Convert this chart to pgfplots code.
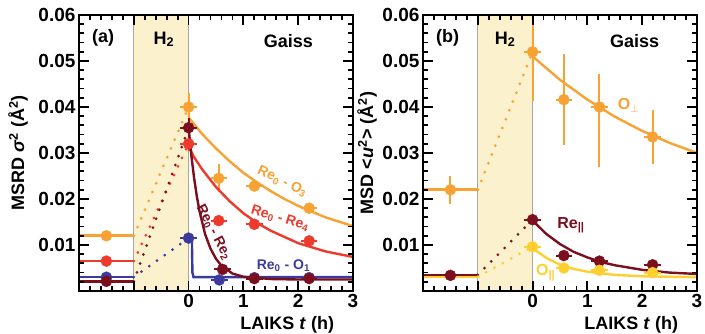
\documentclass[border=0pt]{standalone}
\usepackage{pgfplots}
\pgfplotsset{compat=1.18}
\usepackage{fontspec}
\setmainfont{Liberation Sans}
\definecolor{cOr}{HTML}{F7A233}
\definecolor{cRd}{HTML}{EE3A2C}
\definecolor{cDk}{HTML}{7B0F1E}
\definecolor{cBl}{HTML}{3B3B9E}
\definecolor{cYe}{HTML}{FFCF2F}
\definecolor{cSh}{HTML}{FBF1CC}
\newcommand{\fs}[1]{\fontsize{#1}{#1}\selectfont\bfseries}
\pgfplotsset{
  panel/.style={
    scale only axis, width=274pt, height=276pt,
    xmin=-2, xmax=3, ymin=0, ymax=0.06,
    axis on top,
    xtick={-2,-1,0,1,2,3}, xticklabels={,,0,1,2,3},
    ytick={0,0.01,0.02,0.03,0.04,0.05,0.06},
    yticklabels={,0.01,0.02,0.03,0.04,0.05,0.06},
    scaled y ticks=false,
    minor x tick num=4, minor y tick num=4,
    tick align=inside,
    major tick length=10pt, minor tick length=5pt,
    tick style={black, line width=1.8pt},
    axis line style={line width=2.4pt},
    tick label style={font=\fs{19}},
    /pgf/number format/assume math mode=true,
    label style={font=\fs{18}},
    xlabel={LAIKS \textit{t} (h)},
    xlabel style={at={([yshift=-22pt]rel axis cs:0.76,0)}, anchor=north},
  },
  cur/.style={#1, line width=2.4pt, no markers},
  dotl/.style={#1, line width=3pt, line cap=round, dash pattern=on 0pt off 9.5pt, no markers},
  init/.style={#1, line width=2.6pt, no markers},
  pts/.style={#1, only marks, mark=*, mark size=5.5pt, mark options={fill=#1, draw=#1, solid},
     error bars/.cd, x dir=both, x explicit, y dir=both, y explicit,
     error bar style={#1, line width=2pt}, error mark=none},
}
\begin{document}
\begin{tikzpicture}
\path[use as bounding box] (0,0) rectangle (705pt,334pt);
% ---------------- panel (a)
\begin{axis}[panel, at={(79pt,43pt)}, anchor=south west,
  ylabel={MSRD \textit{σ}\textsuperscript{2} (Å\textsuperscript{2})},
  ylabel style={at={([xshift=-61pt]rel axis cs:0,0.5)}, anchor=center}]
\addplot[fill=cSh, draw=none] coordinates {(-1,0.06) (0,0.06)} \closedcycle;
\addplot[gray!70, line width=0.8pt] coordinates {(-1,0) (-1,0.06)};
\addplot[gray!70, line width=0.8pt] coordinates {(0,0) (0,0.06)};
% orange Re0-O3
\addplot[init=cOr] coordinates {(-2,0.012) (-1,0.012)};
\addplot[dotl=cOr] coordinates {(-1,0.012) (0,0.040)};
\addplot[cur=cOr] coordinates {(0,0.0377)(0.25,0.0341)(0.5,0.0310)(0.75,0.0282)(1,0.0257)(1.25,0.0236)(1.5,0.0217)(1.75,0.0200)(2,0.0185)(2.5,0.0160)(3,0.0141)};
\addplot[pts=cOr] coordinates {(-1.5,0.012) +- (0,0) (0,0.040) +- (0.15,0.003) (0.55,0.0245) +- (0.15,0.003) (1.2,0.0228) +- (0.15,0.001) (2.2,0.018) +- (0.15,0.0008)};
% red Re0-Re4
\addplot[init=cRd] coordinates {(-2,0.0065) (-1,0.0065)};
\addplot[dotl=cRd] coordinates {(-1,0.0065) (0,0.032)};
\addplot[cur=cRd] coordinates {(0,0.0315)(0.1,0.0291)(0.25,0.0264)(0.5,0.0226)(0.75,0.0195)(1,0.0169)(1.25,0.0148)(1.5,0.0131)(2,0.0104)(2.5,0.0086)(3,0.0074)};
\addplot[pts=cRd] coordinates {(-1.5,0.0065) +- (0,0) (0,0.032) +- (0.15,0.0015) (0.55,0.0153) +- (0.15,0.0008) (1.2,0.0145) +- (0.15,0.0008) (2.2,0.0109) +- (0.15,0.0006)};
% blue Re0-O1
\addplot[init=cBl] coordinates {(-2,0.003) (-1,0.003)};
\addplot[dotl=cBl] coordinates {(-1,0.003) (0,0.0115)};
\addplot[cur=cBl] coordinates {(0,0.0115)(0.06,0.0113)(0.07,0.004)(0.09,0.003)(3,0.003)};
\addplot[pts=cBl] coordinates {(-1.5,0.003) +- (0,0) (0,0.0115) +- (0.15,0.0008) (0.56,0.0024) +- (0.15,0.0004) (1.2,0.0029) +- (0.15,0.0004) (2.2,0.0029) +- (0.15,0.0004)};
% dark red Re0-Re2
\addplot[init=cDk] coordinates {(-2,0.0021) (-1,0.0021)};
\addplot[dotl=cDk] coordinates {(-1,0.0021) (0,0.0355)};
\addplot[cur=cDk] coordinates {(0,0.0355)(0.05,0.0295)(0.1,0.0246)(0.15,0.0206)(0.2,0.0173)(0.3,0.0124)(0.4,0.0092)(0.5,0.0070)(0.6,0.0055)(0.8,0.0038)(1,0.0031)(1.5,0.0026)(2,0.0025)(3,0.0025)};
\addplot[pts=cDk] coordinates {(-1.5,0.0021) +- (0,0) (0,0.0355) +- (0.15,0.002) (0.62,0.0047) +- (0.15,0.0005) (1.2,0.0027) +- (0.15,0.0004) (2.2,0.0027) +- (0.15,0.0004)};
% texts
\node[font=\fs{18}] at (axis cs:-1.56,0.0551) {(a)};
\node[font=\fs{18}] at (axis cs:-0.45,0.0547) {H\textsubscript{2}};
\node[font=\fs{18}] at (axis cs:1.82,0.0543) {Gaiss};
\node[cOr, font=\fs{14}, rotate=-25] at (axis cs:1.71,0.0238) {Re\textsubscript{0} - O\textsubscript{3}};
\node[cRd, font=\fs{14}, rotate=-17] at (axis cs:1.67,0.0158) {Re\textsubscript{0} - Re\textsubscript{4}};
\node[cDk, font=\fs{14}, rotate=-62] at (axis cs:0.46,0.0128) {Re\textsubscript{0} - Re\textsubscript{2}};
\node[cBl, font=\fs{14}] at (axis cs:1.73,0.0055) {Re\textsubscript{0} - O\textsubscript{1}};
\end{axis}
% ---------------- panel (b)
\begin{axis}[panel, at={(423pt,43pt)}, anchor=south west,
  ylabel={MSD <\textit{u}\textsuperscript{2}> (Å\textsuperscript{2})},
  ylabel style={at={([xshift=-56pt]rel axis cs:0,0.5)}, anchor=center}]
\addplot[fill=cSh, draw=none] coordinates {(-1,0.06) (0,0.06)} \closedcycle;
\addplot[gray!70, line width=0.8pt] coordinates {(-1,0) (-1,0.06)};
\addplot[gray!70, line width=0.8pt] coordinates {(0,0) (0,0.06)};
% orange O perp
\addplot[init=cOr] coordinates {(-2,0.022) (-1,0.022)};
\addplot[dotl=cOr] coordinates {(-1,0.022) (0,0.052)};
\addplot[cur=cOr] coordinates {(0,0.0510)(0.5,0.0459)(1,0.0416)(1.5,0.0379)(2,0.0348)(2.5,0.0322)(3,0.0300)};
\addplot[pts=cOr] coordinates {(-1.5,0.022) +- (0,0.003) (0,0.052) +- (0.15,0.0108) (0.57,0.0416) +- (0.15,0.0099) (1.22,0.040) += (0.15,0.0072) -= (0.15,0.013) (2.19,0.0335) +- (0.15,0.0058)};
% yellow init line
\addplot[init=cYe] coordinates {(-2,0.0031) (-1,0.0031)};
% dark red Re par
\addplot[init=cDk] coordinates {(-2,0.0035) (-1,0.0035)};
\addplot[dotl=cDk] coordinates {(-1,0.0035) (0,0.0155)};
\addplot[cur=cDk] coordinates {(0,0.0153)(0.25,0.0124)(0.5,0.0102)(0.75,0.0085)(1,0.0073)(1.25,0.0063)(1.5,0.0056)(2,0.0046)(2.5,0.0040)(3,0.0037)};
\addplot[pts=cDk] coordinates {(-1.5,0.0034) +- (0,0) (0,0.0155) +- (0.15,0.0008) (0.57,0.0077) +- (0.15,0.0006) (1.22,0.0065) +- (0.15,0.0005) (2.19,0.0057) +- (0.15,0.0005)};
% yellow O par
\addplot[dotl=cYe] coordinates {(-1,0.0031) (0,0.0096)};
\addplot[cur=cYe] coordinates {(0,0.0093)(0.25,0.0072)(0.5,0.0057)(0.75,0.0048)(1,0.0042)(1.5,0.0035)(2,0.0032)(2.5,0.0031)(3,0.0030)};
\addplot[pts=cYe] coordinates {(0,0.0096) +- (0.15,0.0006) (0.57,0.0050) +- (0.15,0.0004) (1.22,0.0045) +- (0.15,0.0004) (2.19,0.0040) +- (0.15,0.0004)};
% texts
\node[font=\fs{18}] at (axis cs:-1.55,0.0551) {(b)};
\node[font=\fs{18}] at (axis cs:-0.5,0.0547) {H\textsubscript{2}};
\node[font=\fs{18}] at (axis cs:1.86,0.0543) {Gaiss};
\node[cOr, font=\fs{16}] at (axis cs:1.75,0.0404) {O\textsubscript{$\perp$}};
\node[cDk, font=\fs{16}] at (axis cs:0.7,0.0143) {Re\textsubscript{||}};
\node[cYe, font=\fs{16}] at (axis cs:0.24,0.0040) {O\textsubscript{||}};
\end{axis}
\end{tikzpicture}
\end{document}
